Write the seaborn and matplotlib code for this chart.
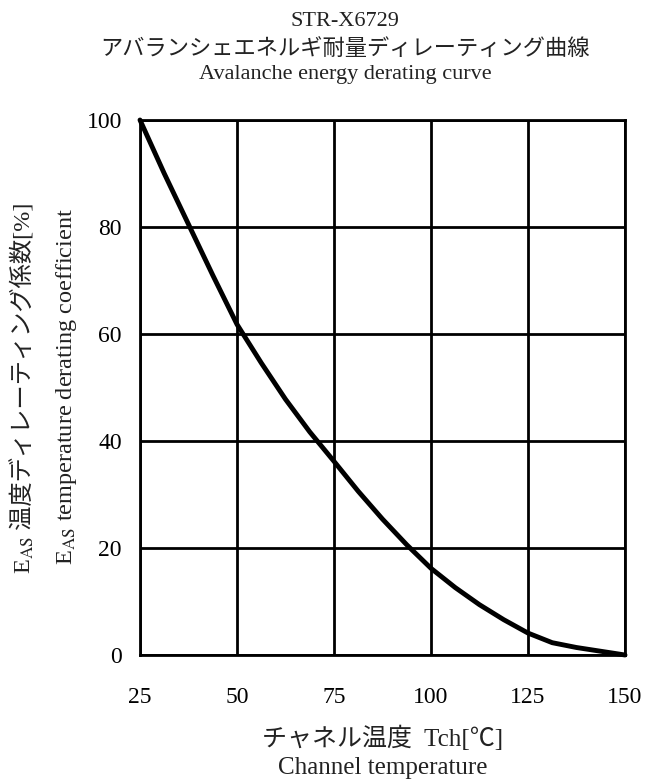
import numpy as np
import matplotlib

matplotlib.use('Agg')
import matplotlib.pyplot as plt
import seaborn as sns
import pandas as pd

# Channel temperature [degC] and EAS derating coefficient [%]
tch = [25, 31.25, 37.5, 43.75, 50, 56.25, 62.5, 68.75, 75, 81.25, 87.5,
       93.75, 100, 106.25, 112.5, 118.75, 125, 131.25, 137.5, 143.75, 150]
eas_pct = [100, 90, 80.5, 71, 61.8, 54.6, 47.8, 41.7, 36.2, 30.6, 25.4,
           20.6, 16.2, 12.6, 9.4, 6.6, 4.1, 2.3, 1.4, 0.7, 0]

x_ticks = [25, 50, 75, 100, 125, 150]
y_ticks = [0, 20, 40, 60, 80, 100]

title_lines = ["STR-X6729",
               "アバランシェエネルギ耐量ディレーティング曲線",
               "Avalanche energy derating curve"]
xlabel_jp = "チャネル温度  Tch[℃]"
xlabel_en = "Channel temperature"
ylabel_sym = r"E$_{\mathrm{AS}}$"
ylabel_jp = " 温度ディレーティング係数[%]"
ylabel_en = r"E$_{\mathrm{AS}}$ temperature derating coefficient"

sns.set_style('white')
fonts = ['Liberation Serif', 'Noto Sans CJK JP', 'DejaVu Sans']
plt.rcParams['font.family'] = fonts
plt.rcParams['mathtext.fontset'] = 'stix'

W, H = 645, 780
txt_color = '#222222'

df = pd.DataFrame({'tch': tch, 'eas': eas_pct})

fig = plt.figure(figsize=(W / 100, H / 100), dpi=100)
ax = fig.add_axes([140 / W, 1 - 655 / H, 485 / W, 535 / H])

sns.lineplot(data=df, x='tch', y='eas', ax=ax, color='black', linewidth=3.5,
             zorder=3, clip_on=False)

ax.set_xlim(25, 150)
ax.set_ylim(0, 100)
ax.set_xticks(x_ticks)
ax.set_yticks(y_ticks)
ax.grid(True, color='black', linewidth=2)
for s in ax.spines.values():
    s.set_color('black')
    s.set_linewidth(2)
ax.tick_params(axis='both', length=0, labelsize=17, colors='black')
ax.tick_params(axis='y', pad=13)
ax.tick_params(axis='x', pad=23)
ax.set_xlabel('')
ax.set_ylabel('')

# titles
for line, y in zip(title_lines, [22, 49, 75]):
    fig.text(345 / W, 1 - y / H, line, ha='center', va='center',
             fontsize=16, color=txt_color)

# x axis label (two lines)
fig.text(383 / W, 1 - 738 / H, xlabel_jp, ha='center', va='center',
         fontsize=18, color=txt_color)
fig.text(383 / W, 1 - 768 / H, xlabel_en, ha='center', va='center',
         fontsize=18, color=txt_color)

# y axis label, English line
fig.text(67 / W, 1 - 386 / H, ylabel_en, ha='center', va='center',
         rotation=90, fontsize=17.5, color=txt_color)

# y axis label, Japanese line: symbol + text drawn separately so CJK fallback works
fig.canvas.draw()
rend = fig.canvas.get_renderer()
kw = dict(rotation=90, rotation_mode='anchor', ha='left', va='baseline',
          fontsize=17.5, color=txt_color)
t1 = fig.text(31 / W, 0.0, ylabel_sym, **kw)
t2 = fig.text(31 / W, 0.0, ylabel_jp, **kw)
h1 = t1.get_window_extent(rend).height
h2 = t2.get_window_extent(rend).height
y_start = (H - 388) - (h1 + h2) / 2
t1.set_y(y_start / H)
t2.set_y((y_start + h1) / H)

fig.savefig('out.png', dpi=100, facecolor='white')
plt.close(fig)
